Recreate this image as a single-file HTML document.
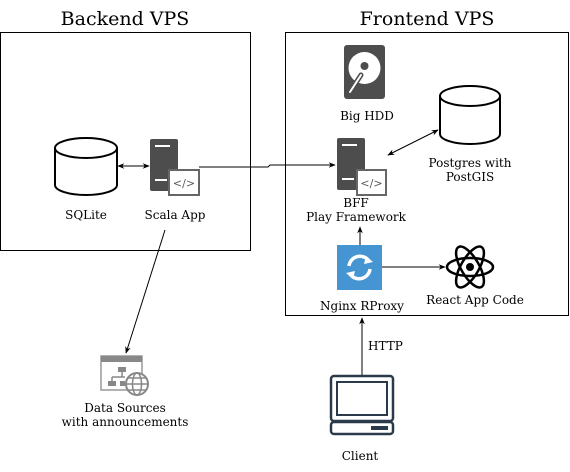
<!DOCTYPE html>
<html><head><meta charset="utf-8"><style>
html,body{margin:0;padding:0;background:#fff;}
svg text{font-family:"DejaVu Serif","Liberation Serif",serif;fill:#000;}
</style></head><body>
<svg width="570" height="467" viewBox="0 0 570 467" xmlns="http://www.w3.org/2000/svg">
<defs>
<marker id="a" viewBox="0 0 10 10" refX="9" refY="5" markerWidth="7" markerHeight="7" orient="auto-start-reverse"><path d="M0,1 L10,5 L0,9 L3,5 z" fill="#000"/></marker>
</defs>
<text x="125" y="25" font-size="19" text-anchor="middle">Backend VPS</text>
<text x="427" y="25" font-size="19" text-anchor="middle">Frontend VPS</text>
<rect x="0.5" y="32.5" width="250" height="218" fill="none" stroke="#000"/>
<rect x="285.5" y="32.5" width="283" height="283" fill="none" stroke="#000"/>

<!-- SQLite -->
<path d="M55,148 L55,185 A31,10 0 0 0 117,185 L117,148" fill="#fff" stroke="#000" stroke-width="2"/>
<ellipse cx="86" cy="148" rx="31" ry="10" fill="#fff" stroke="#000" stroke-width="2"/>
<text x="86" y="219" font-size="12" text-anchor="middle">SQLite</text>
<line x1="118" y1="166" x2="149" y2="166" stroke="#000" marker-start="url(#a)" marker-end="url(#a)"/>

<!-- Scala server -->
<rect x="150" y="139" width="28" height="52" rx="2" fill="#4d4d4d"/>
<rect x="155" y="145" width="15" height="2" fill="#fff"/>
<rect x="155" y="179" width="12" height="2" fill="#fff"/>
<rect x="169" y="170" width="30" height="25" fill="#fff" stroke="#666" stroke-width="2"/>
<text x="184" y="187" font-size="11" text-anchor="middle" style="fill:#555">&lt;/&gt;</text>
<text x="175" y="219" font-size="12" text-anchor="middle">Scala App</text>
<polyline points="199,167 268,167 270,165 335,165" fill="none" stroke="#000" marker-end="url(#a)"/>
<line x1="165" y1="230" x2="126" y2="353" stroke="#000" marker-end="url(#a)"/>

<!-- HDD -->
<rect x="344" y="45" width="41" height="54" rx="3" fill="#4d4d4d"/>
<circle cx="364.5" cy="68" r="16" fill="#fff"/>
<circle cx="364.5" cy="66" r="4" fill="#4d4d4d"/>
<path d="M350,92 L361,75" stroke="#4d4d4d" stroke-width="5" stroke-linecap="round"/>
<path d="M350,92 L361,75" stroke="#fff" stroke-width="2" stroke-linecap="round"/>
<text x="367" y="120" font-size="12" text-anchor="middle">Big HDD</text>

<!-- Postgres -->
<path d="M440,96 L440,134 A30,10 0 0 0 500,134 L500,96" fill="#fff" stroke="#000" stroke-width="2"/>
<ellipse cx="470" cy="96" rx="30" ry="10" fill="#fff" stroke="#000" stroke-width="2"/>
<text x="470" y="167" font-size="12" text-anchor="middle">Postgres with</text>
<text x="470" y="181" font-size="12" text-anchor="middle">PostGIS</text>
<line x1="388" y1="155" x2="438" y2="130" stroke="#000" marker-start="url(#a)" marker-end="url(#a)"/>

<!-- BFF -->
<rect x="337" y="138" width="28" height="52" rx="2" fill="#4d4d4d"/>
<rect x="342" y="144" width="15" height="2" fill="#fff"/>
<rect x="342" y="178" width="12" height="2" fill="#fff"/>
<rect x="357" y="170" width="29" height="25" fill="#fff" stroke="#666" stroke-width="2"/>
<text x="371.5" y="187" font-size="11" text-anchor="middle" style="fill:#555">&lt;/&gt;</text>
<text x="356" y="207" font-size="12" text-anchor="middle">BFF</text>
<text x="356" y="221" font-size="12" text-anchor="middle">Play Framework</text>

<!-- Nginx -->
<rect x="337" y="245" width="45" height="45" fill="#4495d1"/>
<path d="M349,266 A11,11 0 0 1 369,261" fill="none" stroke="#fff" stroke-width="3.5"/>
<path d="M366,256 L373,262 L364,264 z" fill="#fff"/>
<path d="M370,269 A11,11 0 0 1 350,274" fill="none" stroke="#fff" stroke-width="3.5"/>
<path d="M353,279 L346,273 L355,271 z" fill="#fff"/>
<text x="362" y="310" font-size="12" text-anchor="middle">Nginx RProxy</text>
<line x1="360" y1="245" x2="360" y2="227" stroke="#000" marker-end="url(#a)"/>
<line x1="382" y1="267" x2="445" y2="267" stroke="#000" marker-end="url(#a)"/>

<!-- React -->
<g fill="none" stroke="#000" stroke-width="2.5">
<ellipse cx="470" cy="267" rx="23" ry="9"/>
<ellipse cx="470" cy="267" rx="23" ry="9" transform="rotate(60 470 267)"/>
<ellipse cx="470" cy="267" rx="23" ry="9" transform="rotate(-60 470 267)"/>
</g>
<circle cx="470" cy="267" r="4" fill="#000"/>
<text x="475" y="304" font-size="12" text-anchor="middle">React App Code</text>

<!-- Client -->
<line x1="362" y1="375" x2="362" y2="318" stroke="#000" marker-end="url(#a)"/>
<text x="368" y="350" font-size="12">HTTP</text>
<rect x="331" y="376" width="62" height="45" rx="3" fill="none" stroke="#2b3a4a" stroke-width="2.5"/>
<rect x="337" y="382" width="50" height="33" fill="none" stroke="#2b3a4a" stroke-width="2"/>
<rect x="331" y="422" width="62" height="12" rx="3" fill="none" stroke="#2b3a4a" stroke-width="2.5"/>
<rect x="371" y="426" width="17" height="4" fill="#2b3a4a"/>
<text x="360" y="460" font-size="12" text-anchor="middle">Client</text>

<!-- Data sources -->
<rect x="101" y="356" width="41" height="34" fill="#fff" stroke="#999" stroke-width="1.5"/>
<rect x="101" y="356" width="41" height="6" fill="#888"/>
<rect x="118" y="367" width="8" height="5" fill="#888"/>
<path d="M122,372 V377 M112,377 H125 M112,377 V381" stroke="#888" stroke-width="1.5" fill="none"/>
<rect x="108" y="381" width="8" height="5" fill="#888"/>
<rect x="120" y="381" width="5" height="5" fill="#888"/>
<circle cx="137" cy="384" r="11" fill="#fff" stroke="#888" stroke-width="2"/>
<ellipse cx="137" cy="384" rx="4.5" ry="11" fill="none" stroke="#888" stroke-width="1.5"/>
<path d="M126,384 H148 M128,378 H146 M128,390 H146" stroke="#888" stroke-width="1.5"/>
<text x="125" y="412" font-size="12" text-anchor="middle">Data Sources</text>
<text x="125" y="426" font-size="12" text-anchor="middle">with announcements</text>
</svg>
</body></html>
